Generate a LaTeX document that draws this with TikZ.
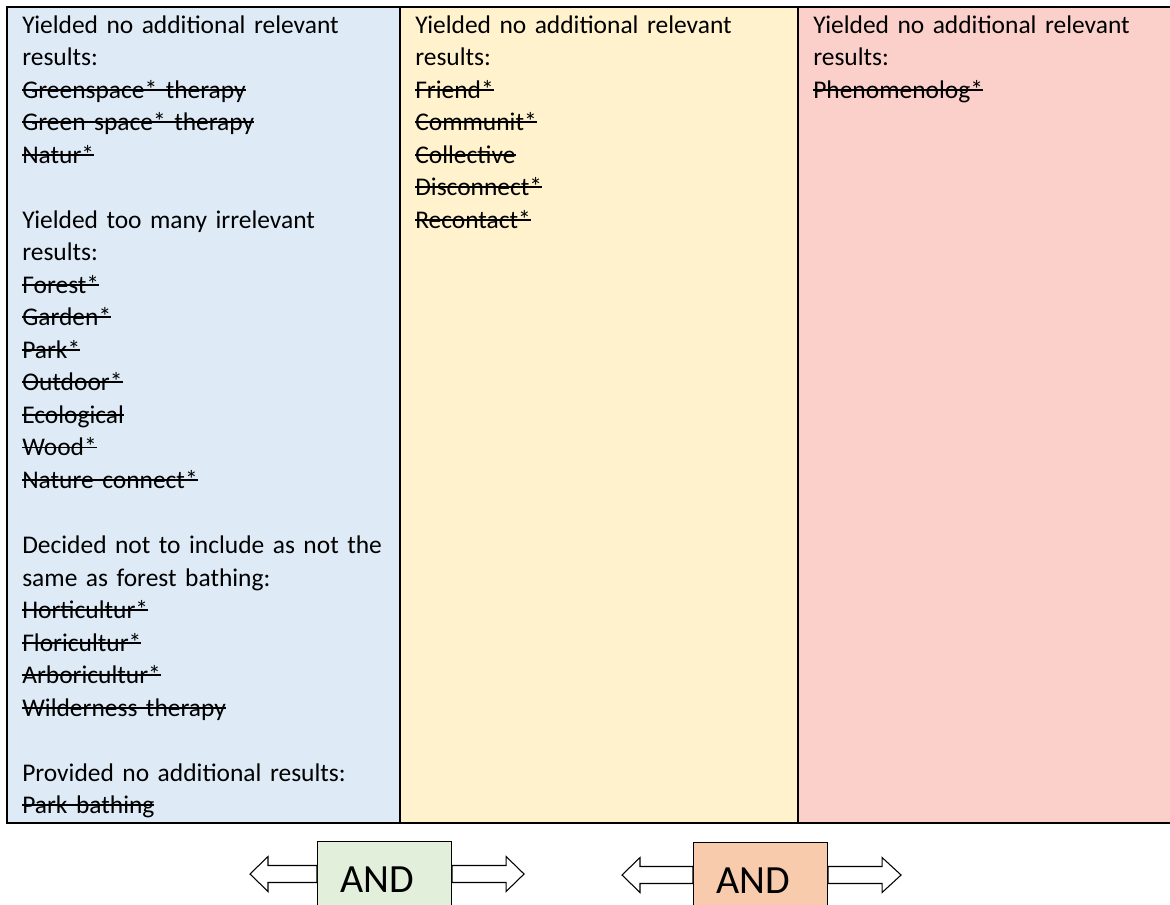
\documentclass[tikz,border=0pt]{standalone}
\usepackage{fontspec}
\setmainfont{Carlito}
% struck-out search term: a rule drawn across the word box
\newsavebox\strkbox
\newcommand\strk[1]{\leavevmode\sbox\strkbox{#1}%
  \rlap{\rule[0.62ex]{\wd\strkbox}{1.4pt}}\usebox\strkbox}
\usetikzlibrary{calc}
\definecolor{colblue}{HTML}{DEEBF7}
\definecolor{colyellow}{HTML}{FFF2CC}
\definecolor{colpink}{HTML}{FCD0CA}
\definecolor{andgreen}{HTML}{E2EFDA}
\definecolor{andorange}{HTML}{F8CBAD}
\begin{document}
\begin{tikzpicture}[x=0.75pt,y=-0.75pt,
  rule/.style={line width=1.6pt},
  coltext/.style={anchor=base west,inner sep=0pt,align=left,text width=281pt,
    font=\fontsize{19.1pt}{24.4pt}\selectfont},
  andbox/.style={draw=black,line width=0.8pt,anchor=north west,
    inner xsep=17.25pt,inner ysep=18.75pt,text width=66pt,align=left,
    font=\fontsize{30pt}{36pt}\selectfont},
  blockarrow/.style={draw=black,fill=white,line width=0.8pt,line join=miter}]
\clip (0,0) rectangle (1170,904);

% three coloured columns
\fill[colblue]   (7,7) rectangle (400,823);
\fill[colyellow] (400,7) rectangle (798,823);
\fill[colpink]   (798,7) rectangle (1180,823);

% table rules
\draw[rule] (1180,7) -- (7,7) -- (7,823) -- (1180,823);
\draw[rule] (400,7) -- (400,823);
\draw[rule] (798,7) -- (798,823);

% column texts
\node[coltext] (t1) at (22,33) {Yielded no additional relevant\\
results:\\
\strk{Greenspace* therapy}\\
\strk{Green space* therapy}\\
\strk{Natur*}\\
\mbox{}\\
Yielded too many irrelevant\\
results:\\
\strk{Forest*}\\
\strk{Garden*}\\
\strk{Park*}\\
\strk{Outdoor*}\\
\strk{Ecological}\\
\strk{Wood*}\\
\strk{Nature connect*}\\
\mbox{}\\
Decided not to include as not the\\
same as forest bathing:\\
\strk{Horticultur*}\\
\strk{Floricultur*}\\
\strk{Arboricultur*}\\
\strk{Wilderness therapy}\\
\mbox{}\\
Provided no additional results:\\
\strk{Park bathing}};

\node[coltext] (t2) at (415,33) {Yielded no additional relevant\\
results:\\
\strk{Friend*}\\
\strk{Communit*}\\
\strk{Collective}\\
\strk{Disconnect*}\\
\strk{Recontact*}};

\node[coltext,text width=262pt] (t3) at (813,33) {Yielded no additional relevant\\
results:\\
\strk{Phenomenolog*}};

% AND boxes
\node[andbox,fill=andgreen] (and1) at (317,841) {AND};
\node[andbox,fill=andorange] (and2) at (693,842) {AND};

% outlined double arrows on both sides of each box
\draw[blockarrow] ($(and1.north west)+(0,24.5)$) -- ++(-49,0) -- ++(0,-9)
  -- ++(-18,17.5) coordinate (l1tip) -- ++(18,17.5) -- ++(0,-9) -- ++(49,0) -- cycle;
\draw[blockarrow] ($(and1.north east)+(0,24.5)$) -- ++(54,0) -- ++(0,-9)
  -- ++(18,17.5) coordinate (r1tip) -- ++(-18,17.5) -- ++(0,-9) -- ++(-54,0) -- cycle;
\draw[blockarrow] ($(and2.north west)+(0,24.5)$) -- ++(-53,0) -- ++(0,-9)
  -- ++(-18,17.5) coordinate (l2tip) -- ++(18,17.5) -- ++(0,-9) -- ++(53,0) -- cycle;
\draw[blockarrow] ($(and2.north east)+(0,24.5)$) -- ++(54,0) -- ++(0,-9)
  -- ++(19,17.5) coordinate (r2tip) -- ++(-19,17.5) -- ++(0,-9) -- ++(-54,0) -- cycle;
\end{tikzpicture}
\end{document}
